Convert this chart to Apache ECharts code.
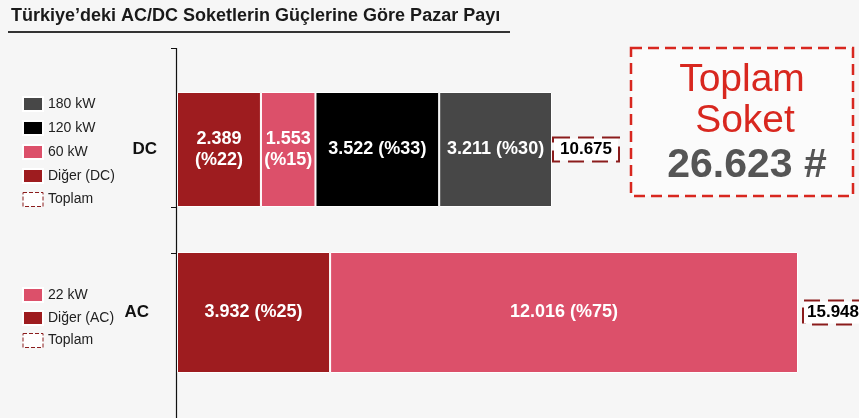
<!DOCTYPE html>
<html>
<head>
<meta charset="utf-8">
<script src="https://cdn.jsdelivr.net/npm/echarts@6/dist/echarts.min.js"></script>
<style>
  html, body { margin: 0; padding: 0; background: #f6f6f6; }
  #chart { width: 859px; height: 418px; }
</style>
</head>
<body>
<div id="chart"></div>
<script>
// DC sockets by power (stack order left -> right)
const dcNames = ["Diğer (DC)", "60 kW", "120 kW", "180 kW"];
const dcValues = [2389, 1553, 3522, 3211];
// AC sockets by power
const acNames = ["Diğer (AC)", "22 kW"];
const acValues = [3932, 12016];
const totalName = "Toplam";

const dcColors = ["#9e1c1f", "#dc506a", "#000000", "#474747"];
const acColors = ["#9e1c1f", "#dc506a"];
const FONT = "Liberation Sans, Arial, sans-serif";

const sum = arr => arr.reduce((a, b) => a + b, 0);
const fmt = n => String(n).replace(/\B(?=(\d{3})+(?!\d))/g, ".");
const dcTotal = sum(dcValues);
const acTotal = sum(acValues);

const totalIcon = { color: "#ffffff", borderColor: "#8b1c1c", borderWidth: 1, borderType: "dashed" };

function buildSeries(names, values, colors, idx, total) {
  const list = names.map((name, i) => ({
    name,
    type: "bar",
    stack: "s" + idx,
    xAxisIndex: idx,
    yAxisIndex: idx,
    barWidth: "100%",
    data: [values[i]],
    itemStyle: { color: colors[i], borderColor: "#ffffff", borderWidth: 1 },
    label: {
      show: true,
      position: "inside",
      color: "#ffffff",
      fontWeight: "bold",
      fontSize: 18,
      lineHeight: 21,
      fontFamily: FONT,
      formatter: p => {
        const pct = "(%" + Math.round(p.value / total * 100) + ")";
        // narrow segments get the share on a second line
        return fmt(p.value) + (p.value / total < 0.24 && idx === 0 ? "\n" : " ") + pct;
      },
    },
  }));
  list.push({
    name: totalName,
    type: "bar",
    stack: "s" + idx,
    xAxisIndex: idx,
    yAxisIndex: idx,
    barWidth: "100%",
    data: [0],
    itemStyle: { color: "transparent" },
    label: {
      show: true,
      position: "right",
      distance: idx === 0 ? 2 : 6,
      formatter: fmt(total),
      color: "#000000",
      fontWeight: "bold",
      fontSize: 17,
      fontFamily: FONT,
      padding: idx === 0 ? [3, 6, 2, 6] : [3, 6, 2, 3],
      backgroundColor: "#ffffff",
      borderColor: "#8b1c1c",
      borderWidth: 2,
      borderType: "dashed",
    },
  });
  return list;
}

const chart = echarts.init(document.getElementById("chart"));

chart.setOption({
  backgroundColor: "#f6f6f6",
  animation: false,
  textStyle: { fontFamily: FONT },
  title: {
    text: "Türkiye’deki AC/DC Soketlerin Güçlerine Göre Pazar Payı",
    left: 11,
    top: 7,
    padding: 0,
    textStyle: { fontSize: 18, fontWeight: "bold", color: "#1a1a1a", fontFamily: FONT },
  },
  legend: [
    {
      orient: "vertical",
      left: 22,
      top: 96,
      padding: 0,
      icon: "rect",
      itemWidth: 20,
      itemHeight: 14,
      itemGap: 8,
      selectedMode: false,
      textStyle: { fontSize: 14, color: "#222222" },
      data: ["180 kW", "120 kW", "60 kW", "Diğer (DC)", { name: totalName, itemStyle: totalIcon }],
    },
    {
      orient: "vertical",
      left: 22,
      top: 287,
      padding: 0,
      icon: "rect",
      itemWidth: 20,
      itemHeight: 14,
      itemGap: 7,
      selectedMode: false,
      textStyle: { fontSize: 14, color: "#222222" },
      data: ["22 kW", "Diğer (AC)", { name: totalName, itemStyle: totalIcon }],
    },
  ],
  grid: [
    { left: 177, top: 92, width: 375, height: 115 },
    { left: 177, top: 252, width: 621, height: 121 },
  ],
  xAxis: [
    { gridIndex: 0, type: "value", min: 0, max: dcTotal, show: false },
    { gridIndex: 1, type: "value", min: 0, max: acTotal, show: false },
  ],
  yAxis: [
    {
      gridIndex: 0,
      type: "category",
      data: ["DC"],
      axisLine: { show: false },
      axisTick: { show: false },
      axisLabel: { fontSize: 17, fontWeight: "bold", color: "#111111", margin: 20 },
    },
    {
      gridIndex: 1,
      type: "category",
      data: ["AC"],
      axisLine: { show: false },
      axisTick: { show: false },
      axisLabel: { fontSize: 17, fontWeight: "bold", color: "#111111", margin: 28 },
    },
  ],
  series: [
    ...buildSeries(dcNames, dcValues, dcColors, 0, dcTotal),
    ...buildSeries(acNames, acValues, acColors, 1, acTotal),
  ],
  graphic: [
    // title underline
    { type: "line", shape: { x1: 8, y1: 32, x2: 510, y2: 32 }, style: { stroke: "#333333", lineWidth: 2 } },
    // category axis line with ticks
    { type: "line", shape: { x1: 176.5, y1: 48, x2: 176.5, y2: 418 }, style: { stroke: "#111111", lineWidth: 1.2 } },
    { type: "line", shape: { x1: 171, y1: 48.5, x2: 177, y2: 48.5 }, style: { stroke: "#111111", lineWidth: 1 } },
    { type: "line", shape: { x1: 171, y1: 207.5, x2: 177, y2: 207.5 }, style: { stroke: "#111111", lineWidth: 1 } },
    { type: "line", shape: { x1: 171, y1: 253.5, x2: 177, y2: 253.5 }, style: { stroke: "#111111", lineWidth: 1 } },
    // total sockets box
    {
      type: "rect",
      shape: { x: 631, y: 48, width: 222, height: 148 },
      style: { fill: "rgba(255,255,255,0.5)", stroke: "#d8271f", lineWidth: 2.5, lineDash: [11, 6] },
    },
    {
      type: "text", x: 742, y: 80,
      style: { text: "Toplam", fill: "#d8271f", fontSize: 39, fontFamily: FONT, align: "center", verticalAlign: "middle" },
    },
    {
      type: "text", x: 745, y: 121,
      style: { text: "Soket", fill: "#d8271f", fontSize: 39, fontFamily: FONT, align: "center", verticalAlign: "middle" },
    },
    {
      type: "text", x: 747, y: 166,
      style: { text: fmt(dcTotal + acTotal) + " #", fill: "#555555", fontSize: 41, fontWeight: "bold", fontFamily: FONT, align: "center", verticalAlign: "middle" },
    },
  ],
});
</script>
</body>
</html>
